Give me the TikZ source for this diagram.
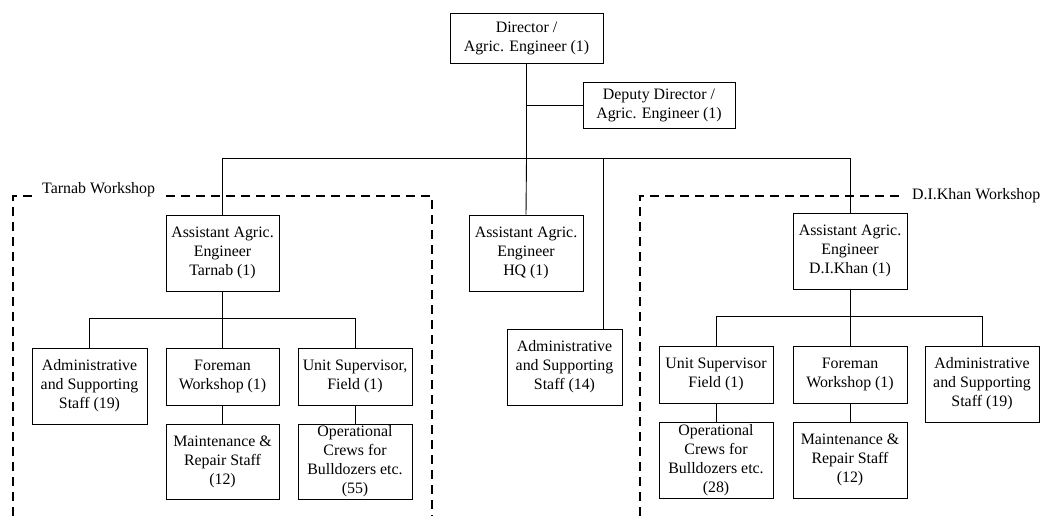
\documentclass[tikz,border=0pt]{standalone}
\usepackage{fontspec}
\setmainfont{Liberation Serif}
\begin{document}
\begin{tikzpicture}[x=1pt,y=-1pt,
  box/.style={draw, line width=0.9pt, inner sep=0pt, align=center, font=\fontsize{15.9}{19}\selectfont},
  conn/.style={line width=0.9pt},
  wsdash/.style={line width=1.3pt, dash pattern=on 9pt off 6pt},
  wslabel/.style={font=\fontsize{15.9}{19}\selectfont, inner sep=0pt}]
\useasboundingbox (0,0) rectangle (1051,516);
% top
\node[box, minimum width=153pt, minimum height=50pt] (dir) at (526.5,38) {Director /\\Agric. Engineer (1)};
\node[box, minimum width=152pt, minimum height=46pt] (dep) at (659,105) {Deputy Director /\\Agric. Engineer (1)};
% level 2
\node[box, minimum width=113pt, minimum height=76pt] (at) at (222.5,253) {Assistant Agric.\\Engineer\\Tarnab (1)};
\node[box, minimum width=114pt, minimum height=76pt] (ahq) at (526,253) {Assistant Agric.\\Engineer\\HQ (1)};
\node[box, minimum width=114pt, minimum height=76pt] (ad) at (850,251) {Assistant Agric.\\Engineer\\D.I.Khan (1)};
\node[box, minimum width=115pt, minimum height=76pt] (adhq) at (564.5,367) {Administrative\\and Supporting\\Staff (14)};
% Tarnab
\node[box, minimum width=115pt, minimum height=76pt] (adt) at (89.5,386) {Administrative\\and Supporting\\Staff (19)};
\node[box, minimum width=113pt, minimum height=57pt] (ft) at (222.5,376.5) {Foreman\\Workshop (1)};
\node[box, minimum width=114pt, minimum height=57pt] (ut) at (355,376.5) {Unit Supervisor,\\Field (1)};
\node[box, minimum width=113pt, minimum height=75pt] (mt) at (222.5,461.5) {Maintenance \&\\Repair Staff\\(12)};
\node[box, minimum width=114pt, minimum height=75pt] (ot) at (355,461.5) {Operational\\Crews for\\Bulldozers etc.\\(55)};
% D.I.Khan
\node[box, minimum width=114pt, minimum height=57pt] (ud) at (716,374.5) {Unit Supervisor\\Field (1)};
\node[box, minimum width=114pt, minimum height=57pt] (fd) at (850,374.5) {Foreman\\Workshop (1)};
\node[box, minimum width=114pt, minimum height=76pt] (add) at (982,384) {Administrative\\and Supporting\\Staff (19)};
\node[box, minimum width=114pt, minimum height=76pt] (od) at (716,460) {Operational\\Crews for\\Bulldozers etc.\\(28)};
\node[box, minimum width=114pt, minimum height=76pt] (md) at (850,460) {Maintenance \&\\Repair Staff\\(12)};
% bus coordinates
\coordinate (busd) at (526.5,158);
\coordinate (depj) at (526.5,105);
\coordinate (bust) at (222.5,158);
\coordinate (busdk) at (850,158);
\coordinate (bushq) at (603,158);
\coordinate (adhqtop) at (603,329);
\coordinate (sbt) at (222.5,318);
\coordinate (sbtl) at (89.5,318);
\coordinate (sbtr) at (355,318);
\coordinate (sbd) at (850,316);
\coordinate (sbdl) at (716,316);
\coordinate (sbdr) at (982,316);
% connectors
\draw[conn] (dir.south) -- (busd);
\draw[conn] (depj) -- (dep.west);
\draw[conn] (bust) -- (busdk);
\draw[conn] (bust) -- (at.north);
\draw[conn] (busd) -- (ahq.north);
\draw[conn] (busdk) -- (ad.north);
\draw[conn] (bushq) -- (adhqtop);
\draw[conn] (at.south) -- (sbt);
\draw[conn] (sbtl) -- (sbtr);
\draw[conn] (sbtl) -- (adt.north);
\draw[conn] (sbt) -- (ft.north);
\draw[conn] (sbtr) -- (ut.north);
\draw[conn] (ft.south) -- (mt.north);
\draw[conn] (ut.south) -- (ot.north);
\draw[conn] (ad.south) -- (sbd);
\draw[conn] (sbdl) -- (sbdr);
\draw[conn] (sbdl) -- (ud.north);
\draw[conn] (sbd) -- (fd.north);
\draw[conn] (sbdr) -- (add.north);
\draw[conn] (ud.south) -- (od.north);
\draw[conn] (fd.south) -- (md.north);
% workshop frames
\draw[wsdash] (13,516) -- (13,196) -- (36,196);
\draw[wsdash] (166,196) -- (432,196) -- (432,516);
\node[wslabel, anchor=west] (tl) at (42,190) {Tarnab Workshop};
\draw[wsdash] (640,516) -- (640,196) -- (902,196);
\node[wslabel, anchor=west] (dl) at (912,196) {D.I.Khan Workshop};
\end{tikzpicture}
\end{document}
